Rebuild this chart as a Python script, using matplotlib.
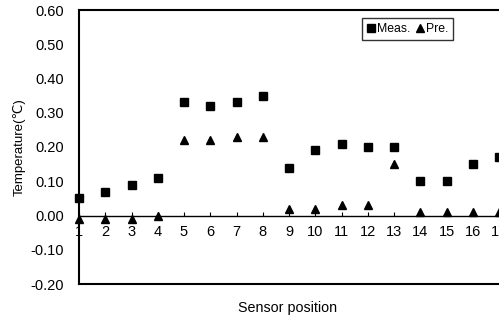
import matplotlib.pyplot as plt
import numpy as np

plt.rcParams['font.family'] = ['Liberation Sans', 'DejaVu Sans']

posiciones = list(range(1, 18))
medido = [0.05, 0.07, 0.09, 0.11, 0.33, 0.32, 0.33, 0.35, 0.14,
          0.19, 0.21, 0.20, 0.20, 0.10, 0.10, 0.15, 0.17]
predicho = [-0.01, -0.01, -0.01, 0.00, 0.22, 0.22, 0.23, 0.23, 0.02,
            0.02, 0.03, 0.03, 0.15, 0.01, 0.01, 0.01, 0.01]
ticks_y = [-0.20, -0.10, 0.00, 0.10, 0.20, 0.30, 0.40, 0.50, 0.60]

fig = plt.figure(figsize=(4.99, 3.2), dpi=100)
ax = fig.add_axes([79 / 499, 36 / 320, 420 / 499, 274 / 320])

ax.plot(posiciones, medido, linestyle='none', marker='s', markersize=6.3,
        color='black', label='Meas.', clip_on=False)
ax.plot(posiciones, predicho, linestyle='none', marker='^', markersize=6.3,
        color='black', label='Pre.', clip_on=False)

ax.set_xlim(1, 17)
ax.set_ylim(-0.20, 0.60)
ax.set_xticks(posiciones)
ax.set_yticks(ticks_y)
ax.set_yticklabels([f'{v:.2f}' for v in ticks_y])

# eje x cruzando en cero
ax.spines['bottom'].set_position(('data', 0))
ax.spines['bottom'].set_linewidth(1.0)
ax.spines['right'].set_visible(False)
ax.spines['left'].set_linewidth(1.5)
ax.spines['top'].set_linewidth(1.5)
ax.axhline(-0.20, color='black', linewidth=1.5, clip_on=False)

ax.tick_params(axis='x', direction='in', length=3, pad=7, labelsize=10.5)
ax.tick_params(axis='y', length=0, pad=11, labelsize=10.5)

ax.set_ylabel('Temperature(℃)', fontsize=9.5, labelpad=3)
fig.text(288 / 499, 1 - 308 / 320, 'Sensor position', ha='center',
         va='center', fontsize=10.3)

leg = ax.legend(loc='upper right', bbox_to_anchor=(0.891, 0.97), ncol=2,
                frameon=True, fancybox=False, fontsize=8.8,
                handlelength=0.6, handletextpad=0.2, columnspacing=0.5,
                borderpad=0.4, borderaxespad=0.0)
leg.get_frame().set_edgecolor('black')
leg.get_frame().set_linewidth(1.0)

plt.savefig('out.png', dpi=100)
